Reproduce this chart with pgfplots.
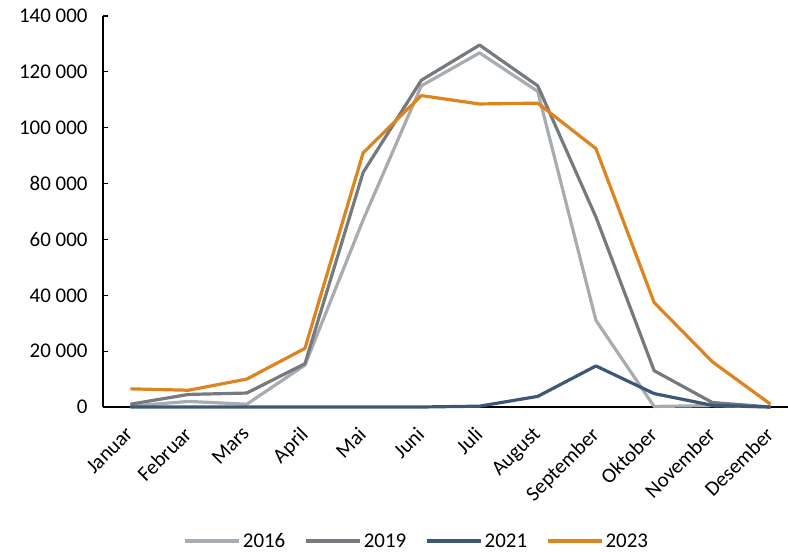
\documentclass[border=0pt]{standalone}
\usepackage{fontspec}
\setmainfont{Carlito}
\usepackage{pgfplots}
\pgfplotsset{compat=1.18}
\definecolor{c2016}{RGB}{167,172,176}
\definecolor{c2019}{RGB}{118,122,127}
\definecolor{c2021}{RGB}{61,88,118}
\definecolor{c2023}{RGB}{222,132,30}

\begin{document}
\begin{tikzpicture}[x=1bp,y=1bp]
\begin{axis}[
    scale only axis,
    width=685bp, height=391bp,
    xmin=-0.47, xmax=11.3,
    ymin=0, ymax=140000,
    scaled y ticks=false,
    ytick={0,20000,40000,60000,80000,100000,120000,140000},
    yticklabels={0,20 000,40 000,60 000,80 000,100 000,120 000,140 000},
    xtick={0,...,11},
    xticklabels={Januar,Februar,Mars,April,Mai,Juni,Juli,August,September,Oktober,November,Desember},
    xticklabel style={xshift=-6bp, yshift=-17bp, rotate=45, anchor=north east, inner sep=1bp},
    axis x line*=bottom, axis y line*=left,
    x axis line style={-, line width=1.2bp},
    y axis line style={-, line width=1.2bp},
    major x tick style={draw=none},
    major y tick style={line width=1.2bp, black},
    tick align=inside,
    major tick length=5bp,
    tick label style={font=\fontsize{21}{24}\selectfont, black},
    yticklabel style={xshift=-12bp},
    legend style={at={(0.458,-0.343)}, anchor=center, draw=none,
        font=\fontsize{21}{24}\selectfont, legend columns=4,
        /tikz/every even column/.append style={column sep=17bp}},
    legend image code/.code={\draw[#1, line width=3.5bp] (0bp,0bp) -- (54bp,0bp);},
    every axis plot/.append style={line width=3.2bp, line join=round, mark=none},
    clip=false,
]
\addplot[c2016] coordinates {(0,300) (1,2000) (2,1000) (3,15000) (4,67000) (5,115000) (6,126800) (7,113000) (8,31000) (9,200) (10,500) (11,0)};
\addplot[c2019] coordinates {(0,1000) (1,4500) (2,5000) (3,15500) (4,84000) (5,117000) (6,129600) (7,115000) (8,68000) (9,13000) (10,1600) (11,0)};
\addplot[c2021] coordinates {(0,0) (1,0) (2,0) (3,0) (4,0) (5,0) (6,300) (7,3800) (8,14700) (9,4800) (10,600) (11,0)};
\addplot[c2023] coordinates {(0,6500) (1,6000) (2,10000) (3,21000) (4,91000) (5,111500) (6,108500) (7,108800) (8,92500) (9,37400) (10,16200) (11,1000)};
\legend{2016,2019,2021,2023}
\end{axis}
\pgfresetboundingbox
\path (-103bp,-146bp) rectangle (685bp,407bp);
\end{tikzpicture}
\end{document}
